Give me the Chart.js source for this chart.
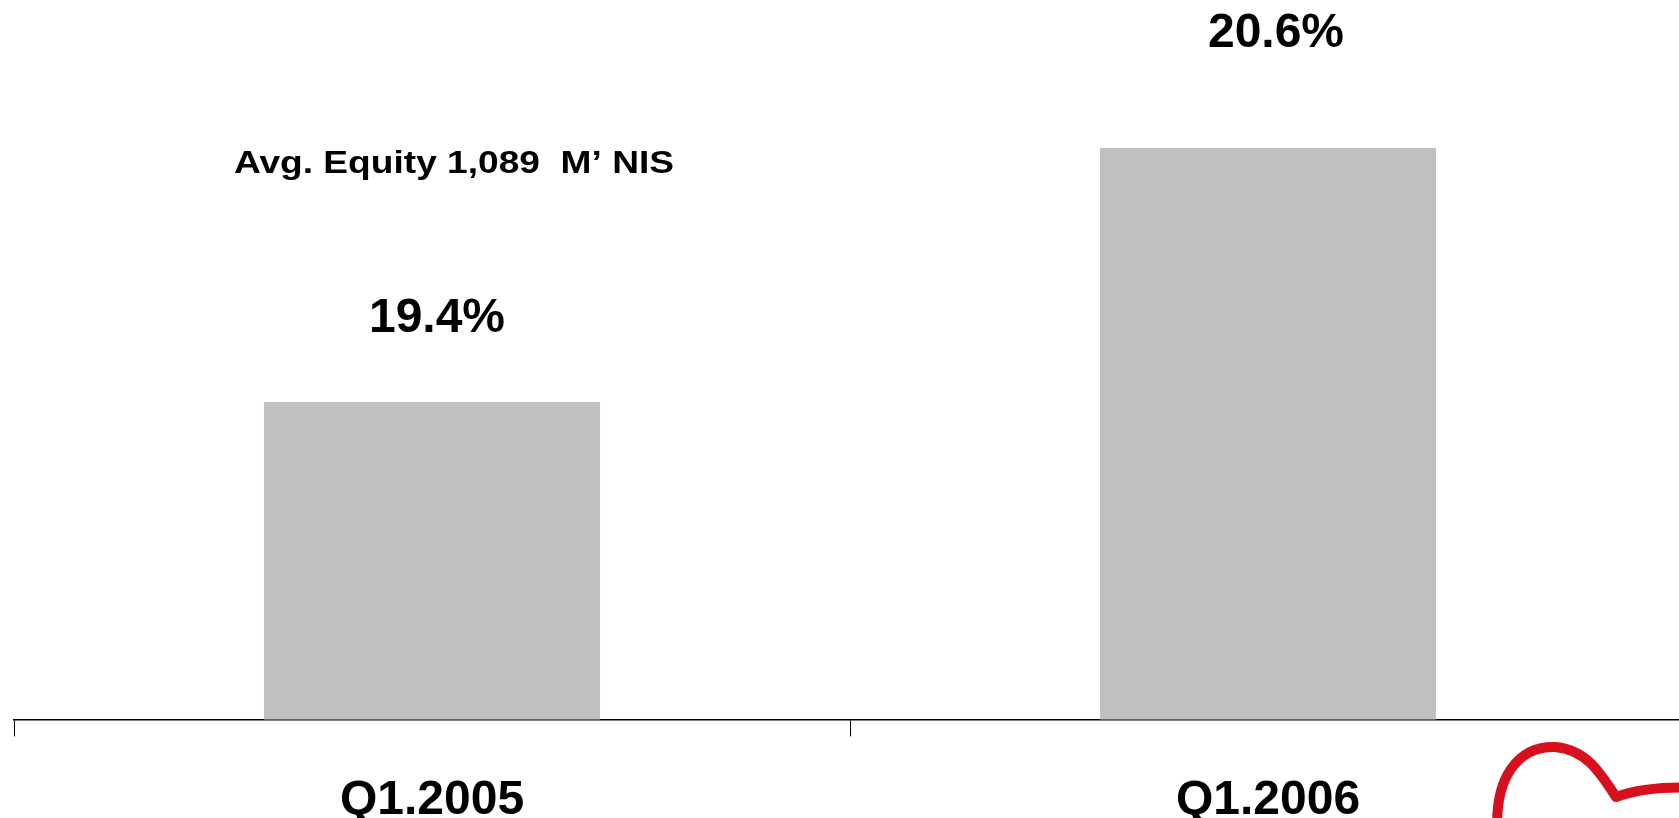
<!DOCTYPE html>
<html>
<head>
<meta charset="utf-8">
<script src="https://cdn.jsdelivr.net/npm/chart.js@4.4.1/dist/chart.umd.min.js"></script>
<style>
  html, body { margin: 0; padding: 0; background: #fff; overflow: hidden; }
  #wrap { position: absolute; left: 0; top: 0; width: 1686px; height: 866px; }
</style>
</head>
<body>
<div id="wrap"><canvas id="roeChart"></canvas></div>
<script>
// data
const quarters = ['Q1.2005', 'Q1.2006'];
const roeValues = [19.4, 20.6];
const roeLabels = ['19.4%', '20.6%'];
const equityNote = 'Avg. Equity 1,089  M\u2019 NIS';

const FONT = "'Liberation Sans', Arial, Helvetica, sans-serif";

// labels above bars + the note above the first bar
const barLabels = {
    id: 'barLabels',
    afterDatasetsDraw(chart, args, opts) {
        const ctx = chart.ctx;
        const meta = chart.getDatasetMeta(0);
        ctx.save();
        ctx.fillStyle = '#000';
        ctx.textAlign = 'center';
        ctx.textBaseline = 'alphabetic';
        meta.data.forEach((bar, i) => {
            ctx.font = 'bold 48px ' + FONT;
            ctx.fillText(roeLabels[i], bar.x + opts.dx[i], bar.y - opts.lift[i]);
        });
        // note is set a bit wider than the font (stretched text box in the original)
        const b0 = meta.data[0];
        ctx.font = 'bold 32px ' + FONT;
        ctx.translate(b0.x + 22, b0.y - 229);
        ctx.scale(1.16, 1);
        ctx.fillText(equityNote, 0, 0);
        ctx.restore();
    },
    afterDraw(chart) {
        // red logo stroke, bottom right corner
        const ctx = chart.ctx;
        ctx.save();
        ctx.strokeStyle = '#d8101e';
        ctx.lineWidth = 10;
        ctx.lineCap = 'round';
        ctx.lineJoin = 'round';
        ctx.beginPath();
        ctx.moveTo(1498, 840);
        ctx.bezierCurveTo(1492, 775, 1520, 746, 1555, 747);
        ctx.bezierCurveTo(1585, 749, 1600, 772, 1616, 797);
        ctx.bezierCurveTo(1635, 790, 1660, 786, 1700, 788);
        ctx.stroke();
        ctx.restore();
    }
};

new Chart(document.getElementById('roeChart').getContext('2d'), {
    type: 'bar',
    data: {
        labels: quarters,
        datasets: [{
            data: roeValues,
            backgroundColor: '#c0c0c0',
            borderWidth: 0,
            barPercentage: 0.402,
            categoryPercentage: 1
        }]
    },
    options: {
        responsive: true,
        maintainAspectRatio: false,
        animation: false,
        layout: { padding: { left: 14, right: 0, top: 0, bottom: 0 } },
        plugins: {
            legend: { display: false },
            tooltip: { enabled: false },
            barLabels: { lift: [70, 101], dx: [5, 8] }
        },
        scales: {
            x: {
                grid: { display: true, drawOnChartArea: false, drawTicks: true, tickLength: 17, color: '#000', lineWidth: 1 },
                border: { display: true, color: '#000', width: 1.5 },
                ticks: { color: '#000', padding: 36, font: { family: FONT, size: 48, weight: 'bold', lineHeight: 1.2 } }
            },
            y: {
                display: false,
                min: 17.9,
                max: 21.3
            }
        }
    },
    plugins: [barLabels]
});
</script>
</body>
</html>
